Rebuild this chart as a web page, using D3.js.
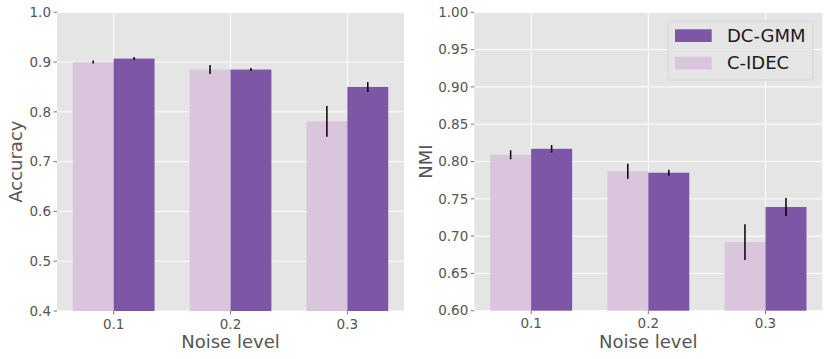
<!DOCTYPE html>
<html>
<head>
<meta charset="utf-8">
<script src="https://cdn.jsdelivr.net/npm/d3@7"></script>
<style>
  body { margin: 0; background: #fff; }
  svg { font-family: "DejaVu Sans", sans-serif; }
</style>
</head>
<body>
<div id="chart"></div>
<script>
// data
const noiseLevels = ["0.1", "0.2", "0.3"];
const seriesNames = ["C-IDEC", "DC-GMM"];

const accCidec = [0.900, 0.885, 0.781];
const accCidecErr = [0.003, 0.009, 0.031];
const accDcgmm = [0.907, 0.885, 0.850];
const accDcgmmErr = [0.003, 0.003, 0.010];

const nmiCidec = [0.809, 0.787, 0.692];
const nmiCidecErr = [0.006, 0.010, 0.024];
const nmiDcgmm = [0.817, 0.785, 0.739];
const nmiDcgmmErr = [0.005, 0.004, 0.012];

const accTicks = [0.4, 0.5, 0.6, 0.7, 0.8, 0.9, 1.0];
const nmiTicks = [0.60, 0.65, 0.70, 0.75, 0.80, 0.85, 0.90, 0.95, 1.00];

const colors = { "C-IDEC": "#dac6dc", "DC-GMM": "#7e56a6" };

const svg = d3.select("#chart").append("svg")
    .attr("width", 830)
    .attr("height", 359);

function drawPanel(opts) {
    const { left, right, top, bottom, domain, ticks, fmt, ylabel, ylabelX, series } = opts;
    const g = svg.append("g");

    // matplotlib style: categories 0..n-1, bar width 0.35, 5% margin
    const xScale = d3.scaleLinear()
        .domain([-0.485, 2.485])
        .range([left, right]);
    const yScale = d3.scaleLinear()
        .domain(domain)
        .range([bottom, top]);

    g.append("rect")
        .attr("x", left).attr("y", top)
        .attr("width", right - left).attr("height", bottom - top)
        .attr("fill", "#e5e5e5");

    // grid
    g.selectAll(".hgrid").data(ticks).enter().append("line")
        .attr("x1", left).attr("x2", right)
        .attr("y1", d => yScale(d)).attr("y2", d => yScale(d))
        .attr("stroke", "#fff").attr("stroke-width", 1);
    g.selectAll(".vgrid").data(noiseLevels).enter().append("line")
        .attr("x1", (d, i) => xScale(i)).attr("x2", (d, i) => xScale(i))
        .attr("y1", top).attr("y2", bottom)
        .attr("stroke", "#fff").attr("stroke-width", 1);

    const barW = xScale(0.35) - xScale(0);

    series.forEach((s, si) => {
        const offset = si === 0 ? -0.35 : 0;
        g.selectAll(".bar" + si).data(s.values).enter().append("rect")
            .attr("x", (d, i) => xScale(i + offset))
            .attr("y", d => yScale(d))
            .attr("width", barW)
            .attr("height", d => bottom - yScale(d))
            .attr("fill", colors[s.name]);

        // error bars
        g.selectAll(".err" + si).data(s.values).enter().append("line")
            .attr("x1", (d, i) => xScale(i + offset + 0.175))
            .attr("x2", (d, i) => xScale(i + offset + 0.175))
            .attr("y1", (d, i) => yScale(d - s.err[i]))
            .attr("y2", (d, i) => yScale(d + s.err[i]))
            .attr("stroke", "#000").attr("stroke-width", 1.5);
    });

    // y ticks
    ticks.forEach(t => {
        g.append("line")
            .attr("x1", left - 3.5).attr("x2", left)
            .attr("y1", yScale(t)).attr("y2", yScale(t))
            .attr("stroke", "#555").attr("stroke-width", 0.8);
        g.append("text")
            .attr("x", left - 6).attr("y", yScale(t))
            .attr("dy", "0.35em")
            .attr("text-anchor", "end")
            .attr("font-size", 13.5)
            .attr("fill", "#555")
            .text(fmt(t));
    });

    // x ticks
    noiseLevels.forEach((lab, i) => {
        g.append("line")
            .attr("x1", xScale(i)).attr("x2", xScale(i))
            .attr("y1", bottom).attr("y2", bottom + 3.5)
            .attr("stroke", "#555").attr("stroke-width", 0.8);
        g.append("text")
            .attr("x", xScale(i)).attr("y", bottom + 17.5)
            .attr("text-anchor", "middle")
            .attr("font-size", 13.5)
            .attr("fill", "#555")
            .text(lab);
    });

    g.append("text")
        .attr("x", (left + right) / 2).attr("y", bottom + 37)
        .attr("text-anchor", "middle")
        .attr("font-size", 18)
        .attr("fill", "#555")
        .text("Noise level");

    g.append("text")
        .attr("transform", `translate(${ylabelX},${(top + bottom) / 2}) rotate(-90)`)
        .attr("text-anchor", "middle")
        .attr("font-size", 18)
        .attr("fill", "#555")
        .text(ylabel);
}

drawPanel({
    left: 57, right: 404, top: 12.3, bottom: 311,
    domain: [0.4, 1.0], ticks: accTicks, fmt: d3.format(".1f"),
    ylabel: "Accuracy", ylabelX: 22,
    series: [
        { name: "C-IDEC", values: accCidec, err: accCidecErr },
        { name: "DC-GMM", values: accDcgmm, err: accDcgmmErr }
    ]
});

drawPanel({
    left: 474.3, right: 822.3, top: 12.3, bottom: 310.7,
    domain: [0.6, 1.0], ticks: nmiTicks, fmt: d3.format(".2f"),
    ylabel: "NMI", ylabelX: 432,
    series: [
        { name: "C-IDEC", values: nmiCidec, err: nmiCidecErr },
        { name: "DC-GMM", values: nmiDcgmm, err: nmiDcgmmErr }
    ]
});

// legend
const legend = svg.append("g").attr("transform", "translate(668,21)");
legend.append("rect")
    .attr("width", 145).attr("height", 59)
    .attr("rx", 3)
    .attr("fill", "#e5e5e5").attr("fill-opacity", 0.8)
    .attr("stroke", "#d0d0d0").attr("stroke-width", 0.8);
["DC-GMM", "C-IDEC"].forEach((name, i) => {
    legend.append("rect")
        .attr("x", 7).attr("y", 8.3 + i * 27.4)
        .attr("width", 36.7).attr("height", 12.7)
        .attr("fill", colors[name]);
    legend.append("text")
        .attr("x", 59).attr("y", 14.6 + i * 27.4)
        .attr("dy", "0.36em")
        .attr("font-size", 18)
        .attr("fill", "#1a1a1a")
        .text(name);
});
</script>
</body>
</html>
